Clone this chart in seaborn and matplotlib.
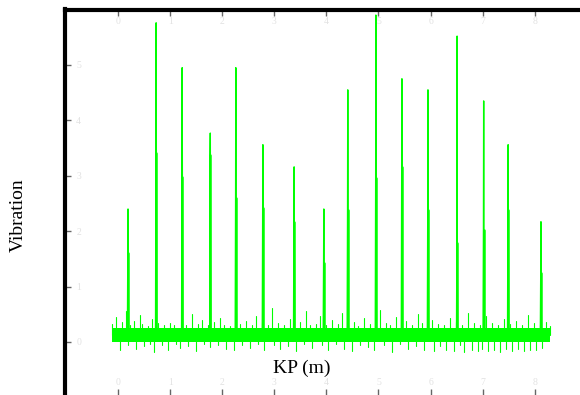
import numpy as np
import pandas as pd
import matplotlib
matplotlib.use("Agg")
import matplotlib.pyplot as plt
import seaborn as sns

# ---------------- data ----------------
x_ticks = [0, 1, 2, 3, 4, 5, 6, 7, 8]
y_ticks = [0, 1, 2, 3, 4, 5]

peak_kp = [0.19, 0.73, 1.23, 1.77, 2.26, 2.78, 3.38, 3.95,
           4.41, 4.95, 5.45, 5.95, 6.51, 7.02, 7.49, 8.12]
peak_height = [2.40, 5.76, 4.95, 3.77, 4.95, 3.56, 3.16, 2.40,
               4.55, 5.90, 4.75, 4.55, 5.52, 4.35, 3.56, 2.17]
shoulder_left = [1.61, 3.41, 2.98, 3.38, 2.60, 2.42, 2.17, 1.43,
                 2.38, 2.96, 3.16, 2.38, 1.79, 2.02, 2.38, 1.25]
shoulder_right = [0.94, 3.05, 2.62, 2.02, 1.84, 1.66, 1.66, 0.94,
                  2.17, 1.48, 1.70, 1.48, 1.12, 1.30, 1.66, 0.76]

baseline = 0.13
band_low, band_high = 0.0, 0.25

kp_start, kp_end = -0.115, 8.29
noise = [
    0.32, 0.12, 0.45, 0.10, -0.15, 0.36, 0.14, 0.55, -0.05, 0.30, 0.12, 0.38, -0.12, 0.16, 0.48, 0.33, -0.08, 0.12, 0.29, -0.04,
    0.42, -0.18, 0.14, 0.34, 0.11, -0.06, 0.31, 0.13, -0.14, 0.35, 0.15, 0.30, -0.03, 0.12, -0.10, 0.37, 0.14, 0.31, -0.07, 0.13,
    0.50, 0.12, -0.16, 0.33, 0.15, 0.40, -0.04, 0.11, 0.30, -0.09, 0.14, 0.36, 0.12, -0.05, 0.44, 0.13, 0.31, -0.12, 0.15, 0.29,
    0.11, -0.15, 0.52, 0.14, 0.33, -0.06, 0.12, 0.37, 0.15, -0.11, 0.30, 0.13, 0.46, -0.03, 0.12, 0.34, -0.14, 0.14, 0.30, 0.11,
    0.62, -0.05, 0.13, 0.35, -0.13, 0.15, 0.31, 0.12, -0.08, 0.41, 0.14, 0.29, -0.17, 0.12, 0.36, 0.14, -0.04, 0.56, 0.13, 0.30,
    -0.10, 0.15, 0.33, 0.12, 0.47, -0.06, 0.14, 0.30, -0.15, 0.13, 0.39, 0.11, -0.03, 0.32, 0.15, 0.53, -0.12, 0.14, 0.31, 0.12,
    -0.16, 0.36, 0.13, 0.29, -0.05, 0.14, 0.43, 0.12, -0.09, 0.33, 0.15, -0.14, 0.30, 0.12, 0.58, 0.14, -0.06, 0.35, 0.13, 0.31,
    -0.18, 0.12, 0.45, 0.14, -0.04, 0.32, 0.11, 0.38, -0.13, 0.15, 0.30, 0.13, -0.07, 0.50, 0.12, 0.34, -0.15, 0.14, 0.29, 0.12,
    0.40, -0.17, 0.13, 0.33, -0.08, 0.15, 0.31, -0.14, 0.12, 0.44, 0.14, -0.16, 0.36, 0.13, -0.05, 0.30, -0.18, 0.12, 0.52, 0.14,
    -0.15, 0.34, 0.13, -0.17, 0.31, -0.12, 0.15, 0.46, -0.16, 0.12, 0.35, -0.14, 0.13, 0.30, -0.18, 0.14, 0.41, -0.13, 0.12, 0.33,
    -0.16, 0.14, 0.37, -0.12, 0.13, 0.31, -0.17, 0.15, 0.48, -0.14, 0.12, 0.34, -0.15, 0.13, 0.30, -0.11, 0.14, 0.36, 0.12, 0.29,
]

# ---------------- build tables ----------------
n = len(noise)
noise_kp = np.linspace(kp_start, kp_end, n)
noise_df = pd.DataFrame({
    "KP": np.concatenate([noise_kp, noise_kp]),
    "Vibration": np.concatenate([np.full(n, baseline), noise]),
    "unit": np.concatenate([np.arange(n), np.arange(n)]),
})

pk = np.array(peak_kp)
m = len(pk)
base = np.full(m, baseline)
ids = np.arange(m)
peak_df = pd.DataFrame({
    "KP": np.concatenate([pk - 0.012, pk - 0.004, pk, pk + 0.004, pk + 0.012]),
    "Vibration": np.concatenate([base, shoulder_left, peak_height, shoulder_right, base]),
    "unit": np.tile(ids, 5),
})
shoulder_df = pd.DataFrame({
    "KP": np.concatenate([pk, pk]),
    "Vibration": np.concatenate([base, shoulder_left]),
    "unit": np.tile(ids, 2),
})

# ---------------- plot ----------------
sns.set_style("white")
plt.rcParams["font.family"] = ["Liberation Serif", "DejaVu Serif"]

W, H = 580, 395
fig = plt.figure(figsize=(W / 100, H / 100), dpi=100)
left_px, top_px = 64.5, 9.5
ax = fig.add_axes([left_px / W, 0.0, 1 - left_px / W, 1 - top_px / H])

green = "#00ff00"
ax.fill_between([kp_start, kp_end], band_low, band_high, color=green, lw=0)
sns.lineplot(data=noise_df, x="KP", y="Vibration", units="unit", estimator=None,
             sort=False, color=green, lw=0.8, ax=ax)
sns.lineplot(data=peak_df, x="KP", y="Vibration", units="unit", estimator=None,
             sort=True, color=green, lw=1.0, ax=ax)
sns.lineplot(data=shoulder_df, x="KP", y="Vibration", units="unit", estimator=None,
             sort=False, color=green, lw=1.8, ax=ax)

ax.set_xlim(-1.03, 8.87)
ax.set_ylim(-0.957, 6.0)
ax.set_xticks(x_ticks)
ax.set_yticks(y_ticks)

for s in ["bottom", "right"]:
    ax.spines[s].set_visible(False)
for s in ["left", "top"]:
    ax.spines[s].set_linewidth(3)
    ax.spines[s].set_color("black")

ax.tick_params(axis="x", direction="in", top=True, bottom=True, length=4,
               width=1, color="#666666", labeltop=True, labelbottom=True,
               labelsize=7, labelcolor="#e2e2e2", pad=-12)
ax.tick_params(axis="y", direction="in", left=True, right=False, length=4,
               width=1, color="#666666", labelleft=True, labelsize=7,
               labelcolor="#e2e2e2", pad=-12)

ax.set_xlabel("KP (m)", fontsize=14, color="black", va="center")
ax.xaxis.set_label_coords((302 - left_px) / (W - left_px), (H - 368) / (H - top_px))
ax.set_ylabel("Vibration", fontsize=14, color="black", va="center")
ax.yaxis.set_label_coords((18 - left_px) / (W - left_px), (H - 215) / (H - top_px))

fig.savefig("out.png", dpi=100)
